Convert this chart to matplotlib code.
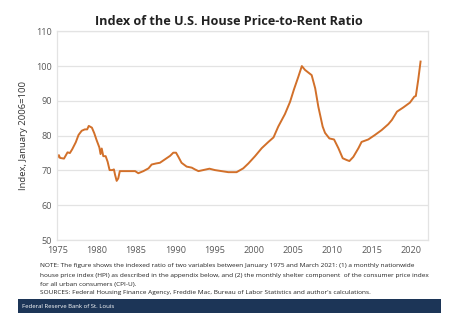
import matplotlib
matplotlib.use("Agg")
import matplotlib.pyplot as plt
from matplotlib.patches import Rectangle

# values (decimal year, index Jan 2006=100)
years = [1975.0, 1975.2, 1975.35, 1975.85, 1976.3, 1976.6, 1976.9, 1977.35, 1977.7,
         1978.1, 1978.5, 1978.8, 1979.0, 1979.4, 1979.7, 1980.0, 1980.35, 1980.5,
         1980.65, 1980.85, 1981.15, 1981.4, 1981.65, 1982.0, 1982.2, 1982.35,
         1982.55, 1982.75, 1982.95, 1983.4, 1984.25, 1984.9, 1985.3, 1985.95,
         1986.6, 1987.0, 1987.55, 1988.05, 1988.7, 1989.35, 1989.75, 1990.1,
         1990.4, 1990.8, 1991.45, 1992.1, 1992.5, 1992.95, 1993.55, 1994.35,
         1995.05, 1995.9, 1996.75, 1997.8, 1998.65, 1999.3, 2000.15, 2001.0,
         2001.85, 2002.5, 2003.1, 2003.95, 2004.6, 2005.1, 2005.65, 2006.1,
         2006.5, 2006.95, 2007.35, 2007.8, 2008.2, 2008.75, 2009.05, 2009.6,
         2010.2, 2010.75, 2011.3, 2011.8, 2012.15, 2012.65, 2013.3, 2013.7,
         2014.55, 2015.4, 2016.25, 2017.1, 2017.55, 2018.2, 2019.0, 2019.85,
         2020.4, 2020.6, 2020.9, 2021.2]
ratio = [73.6, 74.4, 73.6, 73.4, 75.2, 75.0, 76.1, 78.1, 80.2,
         81.4, 81.8, 81.8, 82.8, 82.3, 80.7, 78.7, 76.6, 74.7,
         76.3, 74.1, 74.1, 72.5, 70.1, 70.1, 70.3, 68.7,
         67.0, 67.7, 69.8, 69.8, 69.8, 69.8, 69.2, 69.8,
         70.6, 71.7, 72.0, 72.2, 73.2, 74.2, 75.1, 75.1,
         73.9, 72.2, 71.1, 70.8, 70.3, 69.8, 70.1, 70.5,
         70.1, 69.8, 69.5, 69.5, 70.6, 72.0, 74.1, 76.4,
         78.2, 79.5, 82.6, 86.2, 89.7, 93.3, 96.9, 100.0,
         98.9, 98.1, 97.4, 93.6, 88.3, 82.6, 80.8, 79.2,
         78.9, 76.4, 73.5, 73.0, 72.7, 73.9, 76.4, 78.2,
         78.9, 80.2, 81.6, 83.3, 84.5, 86.9, 88.1, 89.5,
         91.2, 91.4, 96.0, 101.3]

yticks = [50, 60, 70, 80, 90, 100, 110]
xticks = [1975, 1980, 1985, 1990, 1995, 2000, 2005, 2010, 2015, 2020]

title = "Index of the U.S. House Price-to-Rent Ratio"
ylabel = "Index, January 2006=100"
note_lines = [
    "NOTE: The figure shows the indexed ratio of two variables between January 1975 and March 2021: (1) a monthly nationwide",
    "house price index (HPI) as described in the appendix below, and (2) the monthly shelter component  of the consumer price index",
    "for all urban consumers (CPI-U).",
    "SOURCES: Federal Housing Finance Agency, Freddie Mac, Bureau of Labor Statistics and author's calculations.",
]

plt.rcParams['font.family'] = ['Open Sans', 'DejaVu Sans']

fig = plt.figure(figsize=(4.53, 3.26), dpi=100)
ax = fig.add_axes([0.1265, 0.2638, 0.8175, 0.6402])

ax.plot(years, ratio, color="#D2702A", linewidth=1.4)

ax.set_xlim(1975, 2022.1)
ax.set_ylim(50, 110)
ax.set_yticks(yticks)
ax.set_xticks(xticks)
ax.tick_params(length=0, labelsize=6.6, labelcolor="#595959", pad=4)
ax.grid(axis="y", color="#e3e3e3", linewidth=0.9)
ax.set_axisbelow(True)
for s in ax.spines.values():
    s.set_color("#e3e3e3")
    s.set_linewidth(0.9)
ax.set_ylabel(ylabel, fontsize=6.8, color="#333333", labelpad=6)

fig.text(0.506, 0.933, title, ha="center", va="center", fontsize=9.1,
         fontweight="bold", color="#222222")

ys = [265.7, 275.0, 284.3, 292.3]
for line, yp in zip(note_lines, ys):
    fig.text(40 / 453, 1 - yp / 326, line, ha="left", va="center",
             fontsize=4.65, color="#222222")

fig.patches.append(Rectangle((18 / 453, 1 - 313.3 / 326), 423 / 453, 14 / 326,
                             transform=fig.transFigure, facecolor="#1c3557",
                             edgecolor="none"))
fig.text(22.5 / 453, 1 - 306.5 / 326, "Federal Reserve Bank of St. Louis",
         ha="left", va="center", fontsize=4.3, color="white")

fig.savefig("out.png", dpi=100)
